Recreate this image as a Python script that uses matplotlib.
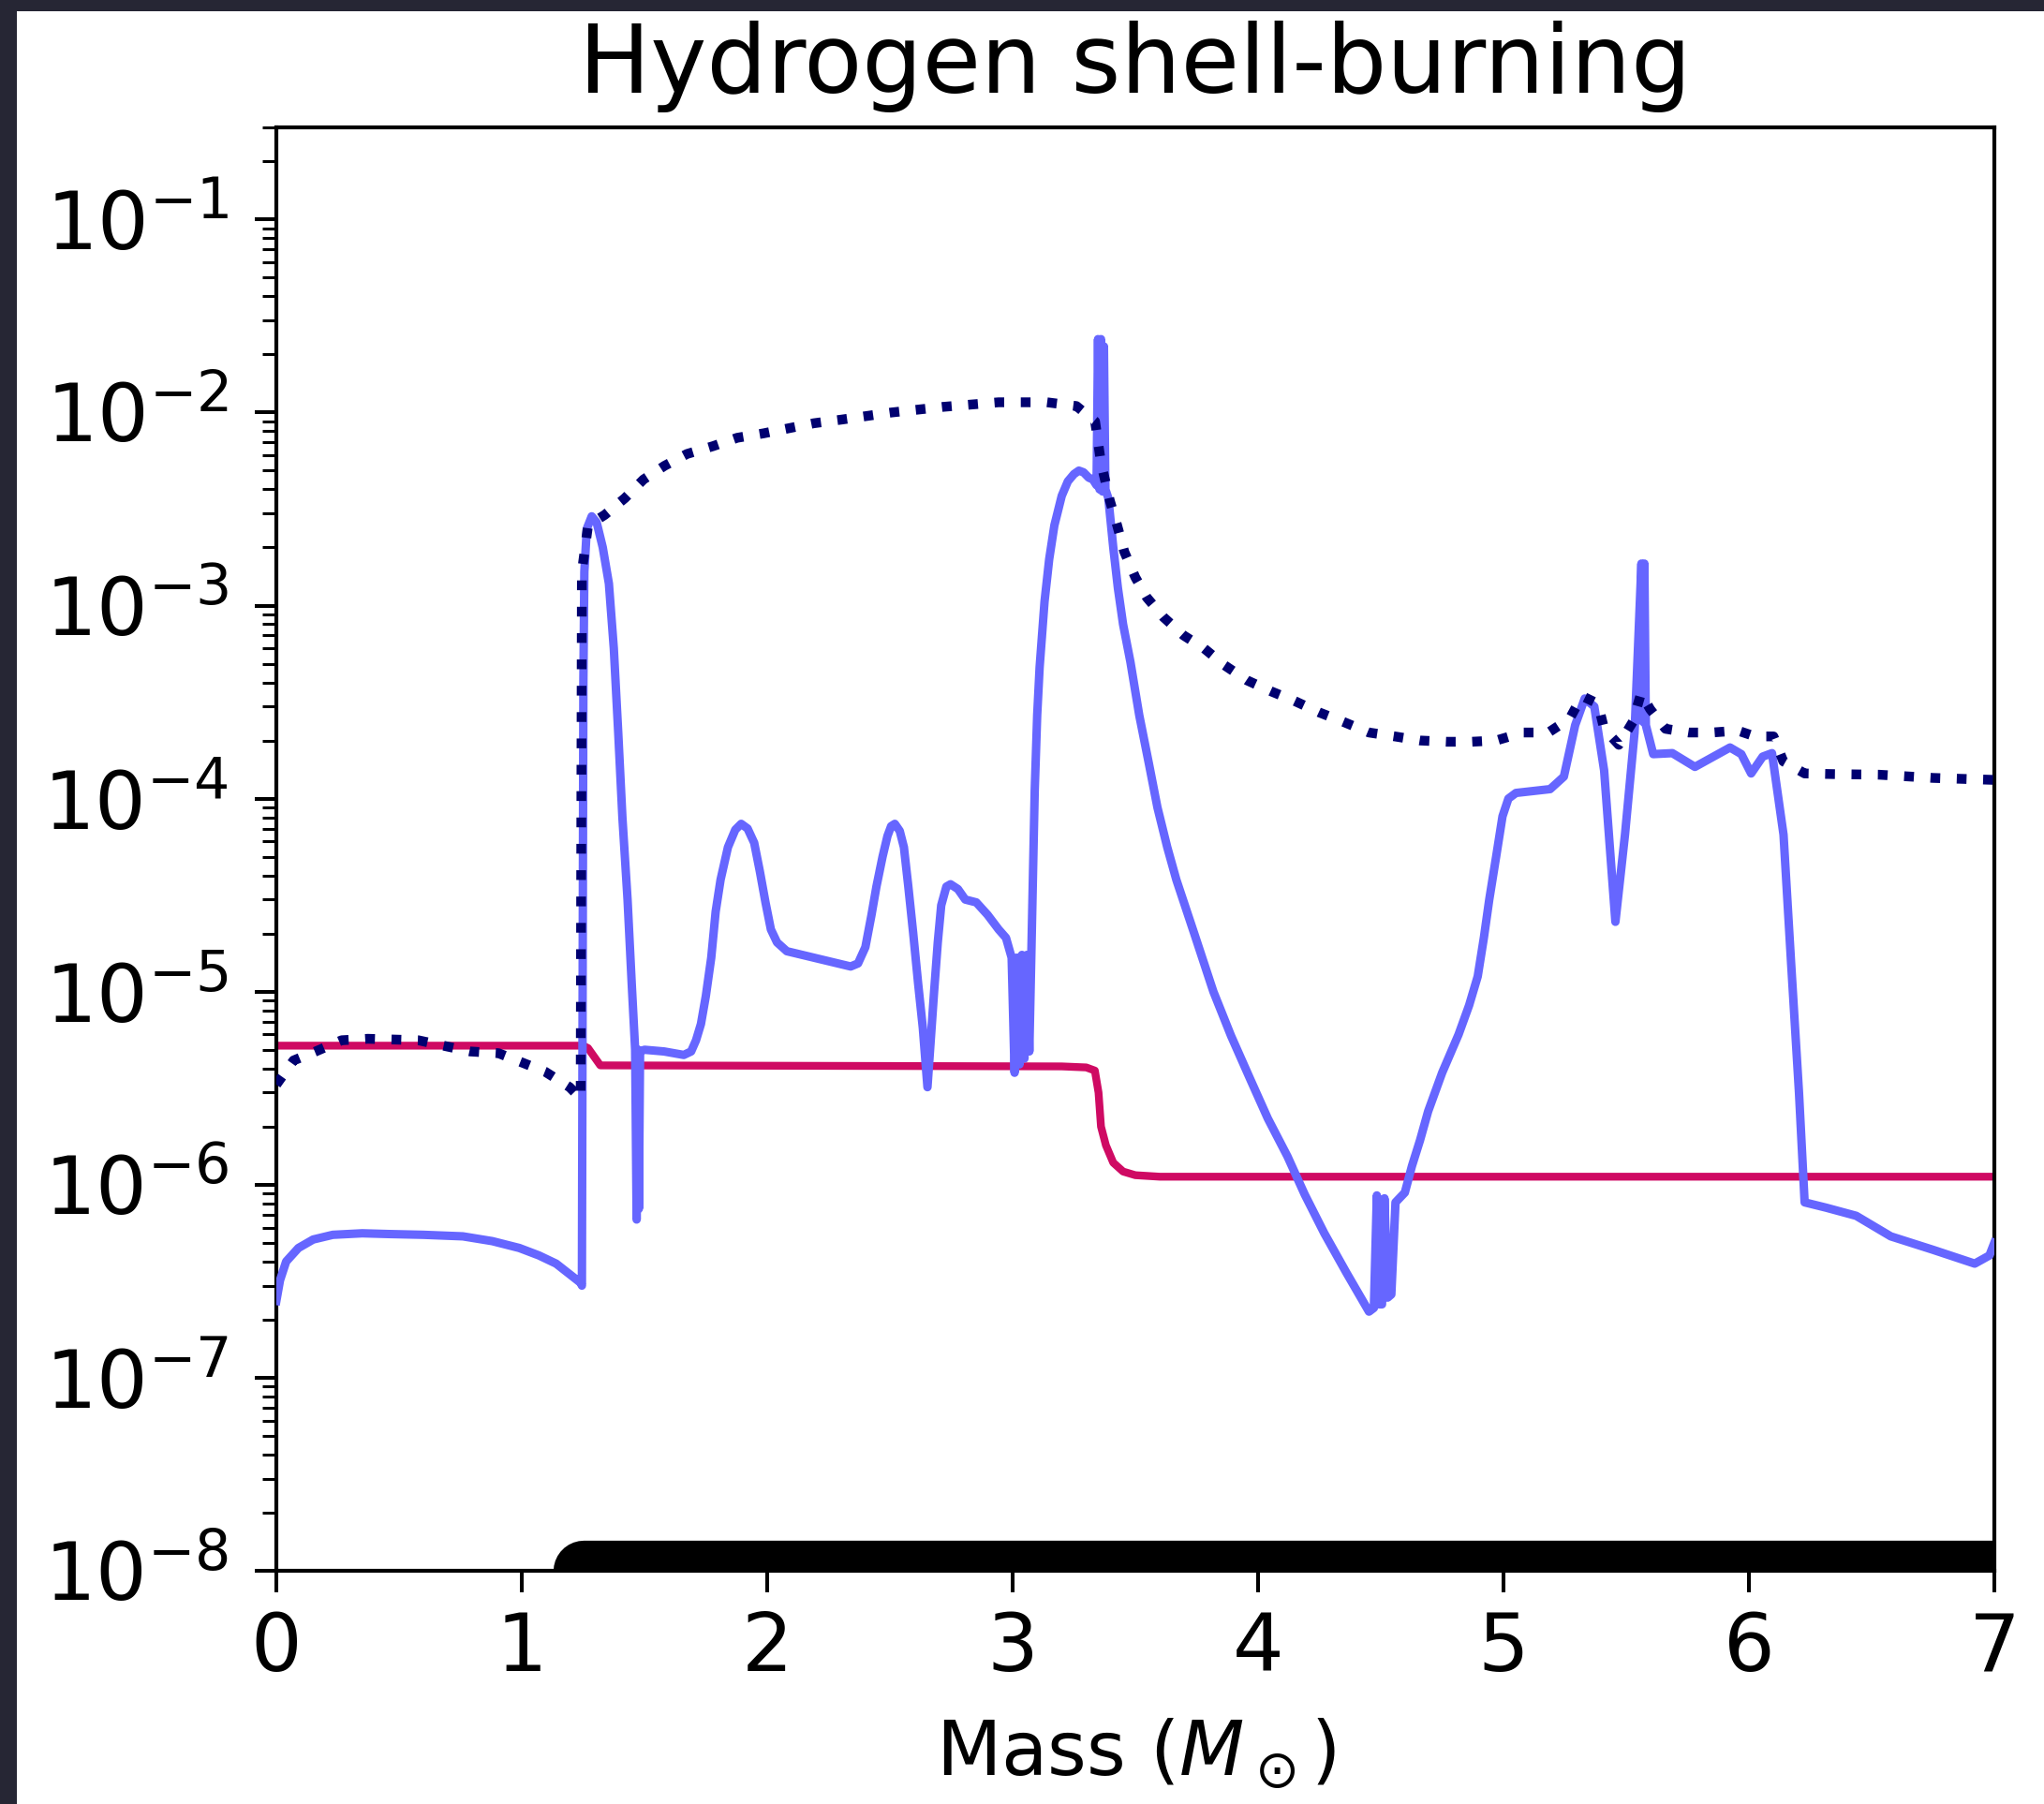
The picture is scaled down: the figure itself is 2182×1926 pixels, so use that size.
"""Hydrogen shell-burning profile: energy terms vs. mass coordinate (log y)."""
import matplotlib
matplotlib.use("Agg")
import matplotlib.pyplot as plt
from matplotlib.patches import Rectangle

# solid light-blue curve
blue_m = [0.00, 0.015, 0.04, 0.09, 0.15, 0.23, 0.35, 0.46, 0.60, 0.76,
          0.88, 0.99, 1.07, 1.14, 1.20, 1.24, 1.245, 1.248, 1.251, 1.255,
          1.265, 1.285, 1.305, 1.33, 1.355, 1.375, 1.393, 1.41, 1.431, 1.448,
          1.462, 1.468, 1.474, 1.477, 1.482, 1.50, 1.58, 1.66, 1.69, 1.71,
          1.73, 1.75, 1.772, 1.79, 1.81, 1.84, 1.87, 1.894, 1.92, 1.947,
          1.97, 1.993, 2.015, 2.04, 2.08, 2.34, 2.37, 2.40, 2.425, 2.445,
          2.47, 2.49, 2.505, 2.52, 2.54, 2.557, 2.575, 2.595, 2.615, 2.634,
          2.653, 2.668, 2.68, 2.695, 2.709, 2.73, 2.747, 2.777, 2.807, 2.852,
          2.898, 2.943, 2.973, 2.996, 3.008, 3.018, 3.028, 3.038, 3.048, 3.058,
          3.068, 3.076, 3.08, 3.09, 3.10, 3.11, 3.13, 3.149, 3.17, 3.20,
          3.225, 3.25, 3.27, 3.289, 3.31, 3.327, 3.342, 3.348, 3.354, 3.360,
          3.366, 3.372, 3.378, 3.39, 3.41, 3.429, 3.45, 3.48, 3.516, 3.556,
          3.59, 3.63, 3.667, 3.74, 3.818, 3.89, 3.969, 4.04, 4.12, 4.19,
          4.27, 4.36, 4.452, 4.472, 4.484, 4.495, 4.505, 4.515, 4.528, 4.543,
          4.56, 4.598, 4.627, 4.66, 4.693, 4.75, 4.817, 4.86, 4.895, 4.92,
          4.942, 4.97, 4.996, 5.02, 5.051, 5.19, 5.246, 5.292, 5.331, 5.37,
          5.41, 5.456, 5.495, 5.534, 5.562, 5.568, 5.574, 5.58, 5.61, 5.688,
          5.78, 5.923, 5.969, 6.009, 6.056, 6.094, 6.141, 6.172, 6.204, 6.227,
          6.315, 6.437, 6.578, 6.75, 6.92, 6.98, 7.00]
blue_eps = [2.5e-7, 3.2e-7, 4.0e-7, 4.7e-7, 5.2e-7, 5.5e-7, 5.6e-7, 5.55e-7, 5.5e-7, 5.4e-7,
            5.1e-7, 4.7e-7, 4.3e-7, 3.9e-7, 3.4e-7, 3.1e-7, 3.0e-7, 1.0e-5, 4.0e-4, 1.5e-3,
            2.5e-3, 2.9e-3, 2.7e-3, 2.0e-3, 1.3e-3, 6.0e-4, 2.2e-4, 8.0e-5, 3.0e-5, 1.1e-5,
            5.0e-6, 6.6e-7, 5.0e-6, 7.5e-7, 4.9e-6, 5.0e-6, 4.9e-6, 4.7e-6, 4.9e-6, 5.6e-6,
            6.8e-6, 9.5e-6, 1.5e-5, 2.6e-5, 3.8e-5, 5.6e-5, 6.9e-5, 7.4e-5, 7.0e-5, 5.9e-5,
            4.2e-5, 2.9e-5, 2.1e-5, 1.8e-5, 1.62e-5, 1.35e-5, 1.4e-5, 1.7e-5, 2.5e-5, 3.5e-5,
            5.0e-5, 6.4e-5, 7.2e-5, 7.4e-5, 6.8e-5, 5.6e-5, 3.5e-5, 2.0e-5, 1.1e-5, 6.5e-6,
            3.2e-6, 6.0e-6, 1.0e-5, 1.8e-5, 2.8e-5, 3.5e-5, 3.6e-5, 3.4e-5, 3.0e-5, 2.9e-5,
            2.5e-5, 2.1e-5, 1.9e-5, 1.5e-5, 3.8e-6, 1.5e-5, 4.2e-6, 1.55e-5, 4.5e-6, 1.55e-5,
            4.9e-6, 1.5e-5, 2.5e-5, 1.1e-4, 2.7e-4, 4.8e-4, 1.05e-3, 1.74e-3, 2.6e-3, 3.7e-3,
            4.4e-3, 4.8e-3, 5.0e-3, 4.9e-3, 4.6e-3, 4.5e-3, 4.2e-3, 2.4e-2, 4.0e-3, 2.4e-2,
            3.9e-3, 2.2e-2, 4.0e-3, 3.6e-3, 2.0e-3, 1.23e-3, 8.0e-4, 5.1e-4, 2.7e-4, 1.5e-4,
            9.0e-5, 5.6e-5, 3.8e-5, 2.0e-5, 1.0e-5, 5.9e-6, 3.5e-6, 2.2e-6, 1.4e-6, 8.9e-7,
            5.6e-7, 3.5e-7, 2.2e-7, 2.3e-7, 8.8e-7, 2.4e-7, 2.4e-7, 8.5e-7, 2.6e-7, 2.7e-7,
            8.1e-7, 9.1e-7, 1.25e-6, 1.7e-6, 2.4e-6, 3.8e-6, 6.0e-6, 8.5e-6, 1.2e-5, 1.9e-5,
            3.0e-5, 5.0e-5, 8.1e-5, 1.0e-4, 1.07e-4, 1.12e-4, 1.3e-4, 2.4e-4, 3.3e-4, 3.0e-4,
            1.4e-4, 2.3e-5, 6.5e-5, 2.2e-4, 1.65e-3, 2.5e-4, 1.65e-3, 2.4e-4, 1.7e-4, 1.72e-4,
            1.46e-4, 1.84e-4, 1.7e-4, 1.35e-4, 1.65e-4, 1.72e-4, 6.5e-5, 1.4e-5, 3.0e-6, 8.1e-7,
            7.6e-7, 6.9e-7, 5.4e-7, 4.6e-7, 3.9e-7, 4.3e-7, 5.0e-7]

# dotted navy curve
dot_m = [0.00, 0.07, 0.16, 0.266, 0.373, 0.578, 0.79, 0.905, 1.00, 1.095,
         1.195, 1.24, 1.245, 1.27, 1.338, 1.42, 1.496, 1.582, 1.673, 1.78,
         1.878, 1.985, 2.09, 2.19, 2.305, 2.505, 2.717, 2.943, 3.14, 3.26,
         3.336, 3.36, 3.396, 3.426, 3.455, 3.50, 3.547, 3.615, 3.697, 3.78,
         3.864, 3.955, 4.052, 4.15, 4.248, 4.347, 4.452, 4.557, 4.66, 4.77,
         4.87, 4.97, 5.08, 5.183, 5.27, 5.32, 5.385, 5.41, 5.47, 5.527,
         5.56, 5.598, 5.66, 5.755, 5.85, 5.955, 6.025, 6.10, 6.14, 6.227,
         6.34, 6.53, 6.75, 7.00]
dot_eps = [3.3e-6, 4.4e-6, 4.9e-6, 5.6e-6, 5.7e-6, 5.6e-6, 4.9e-6, 4.8e-6, 4.3e-6, 3.85e-6,
           3.2e-6, 2.8e-6, 1.5e-3, 2.6e-3, 2.95e-3, 3.6e-3, 4.5e-3, 5.3e-3, 6.1e-3, 6.7e-3,
           7.4e-3, 7.8e-3, 8.3e-3, 8.8e-3, 9.2e-3, 1.0e-2, 1.07e-2, 1.13e-2, 1.13e-2, 1.08e-2,
           9.0e-3, 5.5e-3, 3.5e-3, 2.6e-3, 1.9e-3, 1.4e-3, 1.1e-3, 8.7e-4, 7.0e-4, 6.0e-4,
           4.9e-4, 4.1e-4, 3.6e-4, 3.2e-4, 2.8e-4, 2.5e-4, 2.2e-4, 2.1e-4, 2.0e-4, 1.97e-4,
           1.97e-4, 2.0e-4, 2.2e-4, 2.2e-4, 2.6e-4, 3.4e-4, 3.1e-4, 2.3e-4, 1.9e-4, 2.5e-4,
           3.5e-4, 2.9e-4, 2.3e-4, 2.2e-4, 2.2e-4, 2.25e-4, 2.1e-4, 2.1e-4, 1.56e-4, 1.35e-4,
           1.34e-4, 1.33e-4, 1.28e-4, 1.25e-4]

# magenta step curve
red_m = [0.00, 1.25, 1.27, 1.32, 2.50, 3.20, 3.30, 3.335, 3.35, 3.36,
         3.38, 3.41, 3.45, 3.50, 3.60, 7.00]
red_eps = [5.25e-6, 5.25e-6, 5.1e-6, 4.15e-6, 4.12e-6, 4.1e-6, 4.05e-6, 3.9e-6, 3.0e-6, 2.0e-6,
           1.6e-6, 1.3e-6, 1.17e-6, 1.12e-6, 1.1e-6, 1.1e-6]

# black bar along the bottom axis
bar_m = [1.25, 7.00]
bar_y = [1e-8, 1e-8]

W, H = 2182, 1926
fig = plt.figure(figsize=(W / 100, H / 100), dpi=100)
fig.patch.set_facecolor("#262634")
fig.add_artist(Rectangle((18 / W, 0), 1, 1 - 12 / H, transform=fig.transFigure,
                         facecolor="white", edgecolor="none", zorder=-10))

ax = fig.add_axes([295 / W, 1 - 1677 / H, (2129 - 295) / W, (1677 - 136) / H])
ax.plot(red_m, red_eps, color="#cf0a63", lw=6, zorder=2)
ax.plot(blue_m, blue_eps, color="#6666ff", lw=6.5, zorder=3)
ax.plot(dot_m, dot_eps, color="#000070", lw=7.5, linestyle=(0, (1, 1.7)), zorder=4)
ax.plot(bar_m, bar_y, color="black", lw=47, solid_capstyle="round", zorder=5)

ax.set_yscale("log")
ax.set_xlim(0, 7)
ax.set_ylim(1e-8, 0.30)

for s in ax.spines.values():
    s.set_linewidth(3)
ax.tick_params(which="major", length=16.5, width=2.9, pad=20, labelsize=62)
ax.tick_params(axis="x", pad=14)
ax.tick_params(which="minor", length=11, width=2.2)

ax.set_title("Hydrogen shell-burning", fontsize=73, pad=27)
ax.set_xlabel(r"Mass ($M_\odot$)", fontsize=58, labelpad=22)

fig.savefig("out.png", dpi=100, facecolor=fig.get_facecolor())
